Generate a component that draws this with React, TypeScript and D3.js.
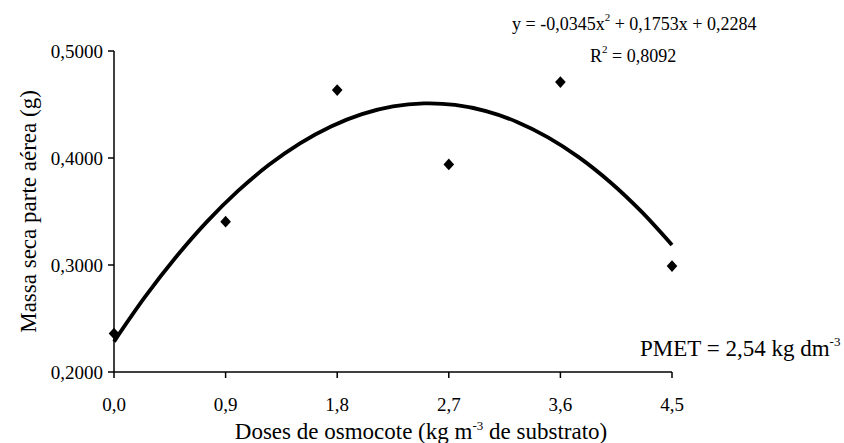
import React from 'react'
import * as d3 from 'd3'

// observed doses and means
const doses = [0, 0.9, 1.8, 2.7, 3.6, 4.5]
const massa = [0.236, 0.3405, 0.4635, 0.394, 0.471, 0.299]

// trendline (y = -0,0345x² + 0,1753x + 0,2284) read at 0.25 steps
const curveX = [0, 0.25, 0.5, 0.75, 1, 1.25, 1.5, 1.75, 2, 2.25, 2.5, 2.75, 3, 3.25, 3.5, 3.75, 4, 4.25, 4.5]
const curveY = [0.2284, 0.2701, 0.3074, 0.3405, 0.3692, 0.3936, 0.4137, 0.4295, 0.441, 0.4482, 0.451, 0.4496, 0.4438, 0.4337, 0.4193, 0.4006, 0.3776, 0.3503, 0.3187]

const xTicks = [0, 0.9, 1.8, 2.7, 3.6, 4.5]
const yTicks = [0.2, 0.3, 0.4, 0.5]

const W = 844
const H = 443
const font = 'Liberation Serif'

export default function App() {
  const x = d3.scaleLinear().domain([0, 4.5]).range([114, 672])
  const y = d3.scaleLinear().domain([0.2, 0.5]).range([372, 51])

  const line = d3.line<number>()
    .x((d, i) => x(curveX[i]))
    .y(d => y(d))
    .curve(d3.curveCatmullRom)

  const diamond = d3.symbol().type(d3.symbolDiamond2).size(72)()
  const fmtX = (v: number) => v.toFixed(1).replace('.', ',')
  const fmtY = (v: number) => v.toFixed(4).replace('.', ',')

  return (
    <svg width={W} height={H} style={{ position: 'absolute', left: 0, top: 0, background: '#fff', fontFamily: font }}>
      <rect width={W} height={H} fill="#fff" />
      {/* axes */}
      <line x1={x(0)} x2={x(0)} y1={y(0.5)} y2={y(0.2)} stroke="#000" strokeWidth={1.5} />
      <line x1={x(0)} x2={x(4.5)} y1={y(0.2)} y2={y(0.2)} stroke="#000" strokeWidth={1.5} />
      {yTicks.map(t => (
        <g key={'y' + t}>
          <line x1={x(0) - 6} x2={x(0)} y1={y(t)} y2={y(t)} stroke="#000" strokeWidth={1.5} />
          <text x={x(0) - 11} y={y(t)} dy="0.35em" textAnchor="end" fontSize={19}>{fmtY(t)}</text>
        </g>
      ))}
      {xTicks.map(t => (
        <g key={'x' + t}>
          <line x1={x(t)} x2={x(t)} y1={y(0.2)} y2={y(0.2) + 6} stroke="#000" strokeWidth={1.5} />
          <text x={x(t)} y={y(0.2) + 39} textAnchor="middle" fontSize={19}>{fmtX(t)}</text>
        </g>
      ))}

      {/* trendline */}
      <path d={line(curveY) || ''} fill="none" stroke="#000" strokeWidth={3.8} />

      {/* points */}
      {doses.map((d, i) => (
        <path key={i} d={diamond || ''} transform={`translate(${x(d)},${y(massa[i])}) scale(1,1.1)`} fill="#000" />
      ))}

      {/* titles */}
      <text x={421} y={439} textAnchor="middle" fontSize={23}>
        Doses de osmocote (kg m<tspan dy={-9} fontSize={13}>-3</tspan><tspan dy={9}> de substrato)</tspan>
      </text>
      <text transform={`translate(36,${(y(0.5) + y(0.2)) / 2}) rotate(-90)`} textAnchor="middle" fontSize={23}>
        Massa seca parte aérea (g)
      </text>

      {/* equation */}
      <text x={512} y={30} fontSize={18}>
        y = -0,0345x<tspan dy={-9} fontSize={11}>2</tspan><tspan dy={9}> + 0,1753x + 0,2284</tspan>
      </text>
      <text x={590} y={62} fontSize={18}>
        R<tspan dy={-9} fontSize={11}>2</tspan><tspan dy={9}> = 0,8092</tspan>
      </text>
      <text x={640} y={356} fontSize={23}>
        PMET = 2,54 kg dm<tspan dy={-10} fontSize={13}>-3</tspan>
      </text>
    </svg>
  )
}
